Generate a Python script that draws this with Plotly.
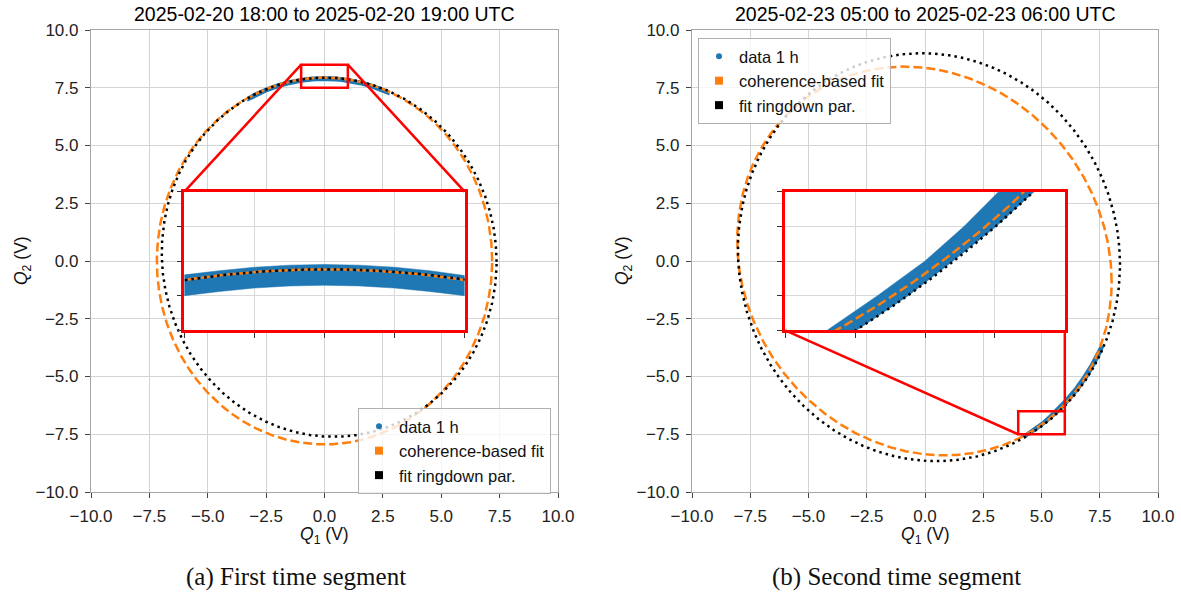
import numpy as np
import plotly.graph_objects as go

W, H = 1181, 593

# ---------------- data ----------------
# panel (a): measured data band (upper / lower edge of the point cloud)
band_a_x = [-3.3, -3.0, -2.5, -2.0, -1.5, -1.0, -0.75, -0.5, -0.25, 0.0,
            0.25, 0.5, 0.75, 1.0, 1.5, 2.0, 2.5, 2.75]
band_a_upper = [7.08, 7.25, 7.48, 7.66, 7.80, 7.90, 7.93, 7.955, 7.97, 7.975,
                7.97, 7.955, 7.93, 7.895, 7.795, 7.655, 7.47, 7.36]
band_a_lower = [6.93, 7.09, 7.32, 7.505, 7.645, 7.75, 7.78, 7.805, 7.82, 7.825,
                7.82, 7.805, 7.78, 7.75, 7.645, 7.505, 7.32, 7.21]

# panel (b): measured data band (left / right edge of the point cloud)
band_b_y = [-7.62, -7.5, -7.25, -7.0, -6.75, -6.5, -6.0, -5.5, -5.0, -4.5, -4.0, -3.7]
band_b_left = [4.12, 4.30, 4.66, 5.00, 5.28, 5.54, 6.02, 6.44, 6.79, 7.10, 7.38, 7.52]
band_b_right = [4.32, 4.51, 4.88, 5.20, 5.51, 5.78, 6.25, 6.65, 6.99, 7.28, 7.54, 7.66]

# fitted ellipses: [centre x, centre y, semi-axis x, semi-axis y, x-y coupling]
fit_a_coherence = [0.0, 0.0, 7.18, 7.94, 0.0]
fit_a_ringdown = [0.2, 0.165, 7.17, 7.775, -0.2]
fit_b_coherence = [-0.025, 0.0, 8.035, 8.415, -0.9]
fit_b_ringdown = [0.17, 0.165, 8.2, 8.83, -0.33]

titles = ["2025-02-20 18:00 to 2025-02-20 19:00 UTC",
          "2025-02-23 05:00 to 2025-02-23 06:00 UTC"]
captions = ["(a) First time segment", "(b) Second time segment"]
legend_names = ["data 1 h", "coherence-based fit", "fit ringdown par."]
tick_vals = [-10.0, -7.5, -5.0, -2.5, 0.0, 2.5, 5.0, 7.5, 10.0]

# inset definitions (main-axis box where inset sits, zoomed ranges)
inset_box = [-6, 6, -3, 3]
zoom_a = [-1, 1, 7.5, 8.5]
zoom_b = [4, 6, -7.5, -6.5]
inset_a_ticks_x = [-1, -0.5, 0, 0.5, 1]
inset_a_ticks_y = [7.5, 7.75, 8.0, 8.25, 8.5]
inset_b_ticks_x = [4, 4.5, 5, 5.5, 6]
inset_b_ticks_y = [-7.5, -7.25, -7.0, -6.75, -6.5]

BLUE = "#1f77b4"
ORANGE = "#ff7f0e"
FONT = "Liberation Sans"

# ---------------- helpers ----------------
def ellipse(p, n=2401):
    cx, cy, rx, ry, k = p
    t = np.linspace(0, 2 * np.pi, n)
    d = np.sqrt(ry ** 2 - k ** 2)
    return cx + rx * np.cos(t), cy + k * np.cos(t) + d * np.sin(t)

# pixel geometry
left_px = [(91, 558), (692, 1158)]
top_px, bot_px = 30, 492
ydom = [1 - bot_px / H, 1 - top_px / H]

def xdom(i):
    return [left_px[i][0] / W, left_px[i][1] / W]

def sub_dom(i, v0, v1, axis):
    d = xdom(i) if axis == "x" else ydom
    f0 = (v0 + 10) / 20
    f1 = (v1 + 10) / 20
    return [d[0] + f0 * (d[1] - d[0]), d[0] + f1 * (d[1] - d[0])]

fig = go.Figure()

def add_panel(xa, ya, band_poly, fit_coh, fit_ring, thick):
    bx, by = band_poly
    fig.add_trace(go.Scatter(x=bx, y=by, mode="lines", fill="toself",
                             fillcolor=BLUE, line=dict(color=BLUE, width=thick),
                             xaxis=xa, yaxis=ya, showlegend=False, hoverinfo="skip"))
    ex, ey = ellipse(fit_coh)
    fig.add_trace(go.Scatter(x=ex, y=ey, mode="lines",
                             line=dict(color=ORANGE, width=2.5, dash="9px,4px"),
                             xaxis=xa, yaxis=ya, showlegend=False, hoverinfo="skip"))
    ex, ey = ellipse(fit_ring)
    fig.add_trace(go.Scatter(x=ex, y=ey, mode="lines",
                             line=dict(color="black", width=2.5, dash="2.5px,4px"),
                             xaxis=xa, yaxis=ya, showlegend=False, hoverinfo="skip"))

poly_a = (band_a_x + band_a_x[::-1], band_a_upper + band_a_lower[::-1])
poly_b = (band_b_left + band_b_right[::-1], band_b_y + band_b_y[::-1])

add_panel("x", "y", poly_a, fit_a_coherence, fit_a_ringdown, 1.5)
add_panel("x2", "y2", poly_b, fit_b_coherence, fit_b_ringdown, 1.5)
add_panel("x3", "y3", poly_a, fit_a_coherence, fit_a_ringdown, 0.5)
add_panel("x4", "y4", poly_b, fit_b_coherence, fit_b_ringdown, 0.5)

# legend entries
for lg, xa, ya in [("legend", "x", "y"), ("legend2", "x2", "y2")]:
    fig.add_trace(go.Scatter(x=[None], y=[None], mode="markers", name=legend_names[0],
                             marker=dict(color=BLUE, size=6, symbol="circle"),
                             xaxis=xa, yaxis=ya, legend=lg))
    fig.add_trace(go.Scatter(x=[None], y=[None], mode="markers", name=legend_names[1],
                             marker=dict(color=ORANGE, size=8, symbol="square"),
                             xaxis=xa, yaxis=ya, legend=lg))
    fig.add_trace(go.Scatter(x=[None], y=[None], mode="markers", name=legend_names[2],
                             marker=dict(color="black", size=8, symbol="square"),
                             xaxis=xa, yaxis=ya, legend=lg))

main_ax = dict(range=[-10, 10], tickvals=tick_vals, tickformat=".1f",
               showgrid=True, gridcolor="#d3d3d3", gridwidth=1,
               showline=True, linecolor="#a6a6a6", linewidth=1.2, mirror=True,
               ticks="outside", ticklen=5, tickcolor="#444", tickwidth=1,
               zeroline=False, ticklabelstandoff=3, automargin=False,
               tickfont=dict(family=FONT, size=17, color="#222"))

inset_ax = dict(showgrid=True, gridcolor="#d9d9d9", gridwidth=1,
                showline=True, linecolor="red", linewidth=2.5, mirror=True,
                ticks="outside", ticklen=5, tickcolor="#333", tickwidth=1,
                showticklabels=False, zeroline=False, automargin=False)

layout = dict(
    width=W, height=H, margin=dict(l=0, r=0, t=0, b=0, autoexpand=False),
    paper_bgcolor="white", plot_bgcolor="white",
    xaxis=dict(main_ax, domain=xdom(0), anchor="y"),
    yaxis=dict(main_ax, domain=ydom, anchor="x"),
    xaxis2=dict(main_ax, domain=xdom(1), anchor="y2"),
    yaxis2=dict(main_ax, domain=ydom, anchor="x2"),
    xaxis3=dict(inset_ax, domain=sub_dom(0, inset_box[0], inset_box[1], "x"),
                range=zoom_a[:2], tickvals=inset_a_ticks_x, anchor="y3"),
    yaxis3=dict(inset_ax, domain=sub_dom(0, inset_box[2], inset_box[3], "y"),
                range=zoom_a[2:], tickvals=inset_a_ticks_y, anchor="x3"),
    xaxis4=dict(inset_ax, domain=sub_dom(1, inset_box[0], inset_box[1], "x"),
                range=zoom_b[:2], tickvals=inset_b_ticks_x, anchor="y4"),
    yaxis4=dict(inset_ax, domain=sub_dom(1, inset_box[2], inset_box[3], "y"),
                range=zoom_b[2:], tickvals=inset_b_ticks_y, anchor="x4"),
    legend=dict(x=358 / W, y=1 - 408 / H, xanchor="left", yanchor="top",
                bgcolor="rgba(255,255,255,0.8)", bordercolor="#b0b0b0", borderwidth=1,
                font=dict(family=FONT, size=16.5, color="#111"), tracegroupgap=0),
    legend2=dict(x=698 / W, y=1 - 38 / H, xanchor="left", yanchor="top",
                 bgcolor="rgba(255,255,255,0.8)", bordercolor="#b0b0b0", borderwidth=1,
                 font=dict(family=FONT, size=16.5, color="#111"), tracegroupgap=0),
    showlegend=True,
)
fig.update_layout(**layout)

# zoom boxes and connector lines
red = dict(color="red", width=2.5)
shapes = []
for xr, yr, z, conns in [
    ("x", "y", zoom_a, [((inset_box[0], inset_box[3]), (zoom_a[0], zoom_a[3])),
                         ((inset_box[1], inset_box[3]), (zoom_a[1], zoom_a[3]))]),
    ("x2", "y2", zoom_b, [((inset_box[0], inset_box[2]), (zoom_b[0], zoom_b[2])),
                           ((inset_box[1], inset_box[2]), (zoom_b[1], zoom_b[3]))]),
]:
    shapes.append(dict(type="rect", xref=xr, yref=yr, x0=z[0], x1=z[1], y0=z[2], y1=z[3],
                       line=red, layer="above"))
    for (p0, p1) in conns:
        shapes.append(dict(type="line", xref=xr, yref=yr, x0=p0[0], y0=p0[1],
                           x1=p1[0], y1=p1[1], line=red, layer="above"))
fig.update_layout(shapes=shapes)

# text annotations
ann = []
for i in range(2):
    cx = (left_px[i][0] + left_px[i][1]) / 2
    ann.append(dict(text=titles[i], x=cx / W, y=1 - 14 / H, xref="paper", yref="paper",
                    xanchor="center", yanchor="middle", showarrow=False,
                    font=dict(family=FONT, size=19.5, color="black")))
    ann.append(dict(text="<i>Q</i><sub>1</sub> (V)", x=cx / W, y=1 - 535 / H,
                    xref="paper", yref="paper", xanchor="center", yanchor="middle",
                    showarrow=False, font=dict(family=FONT, size=17.5, color="#111")))
    ann.append(dict(text="<i>Q</i><sub>2</sub> (V)", x=(left_px[i][0] - 69) / W,
                    y=1 - 261 / H, xref="paper", yref="paper", xanchor="center",
                    yanchor="middle", textangle=-90, showarrow=False,
                    font=dict(family=FONT, size=17.5, color="#111")))
cap_x = [296, 896]
for i in range(2):
    ann.append(dict(text=captions[i], x=cap_x[i] / W, y=1 - 577 / H, xref="paper",
                    yref="paper", xanchor="center", yanchor="middle", showarrow=False,
                    font=dict(family="Liberation Serif", size=25, color="#111")))
fig.update_layout(annotations=ann)

fig.write_html("out.html")
